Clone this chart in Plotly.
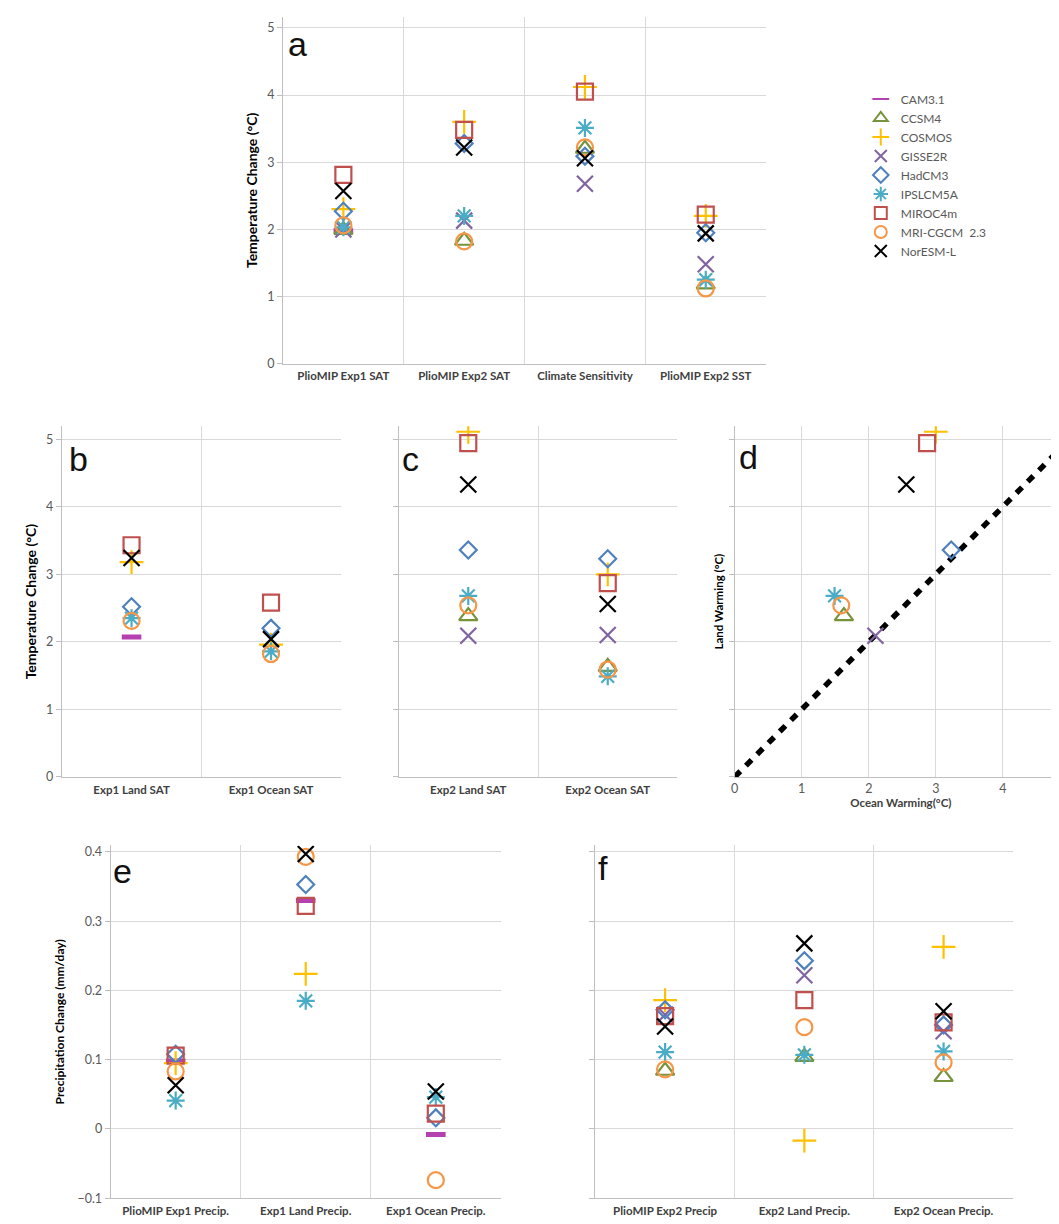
import plotly.graph_objects as go

W, H = 1059, 1224

MODELS = ["CAM3.1", "CCSM4", "COSMOS", "GISSE2R", "HadCM3", "IPSLCM5A",
          "MIROC4m", "MRI-CGCM  2.3", "NorESM-L"]
COLORS = ["#B540B0", "#77933C", "#FFC000", "#8064A2", "#4F81BD", "#4BACC6",
          "#C0504D", "#F79646", "#000000"]
SYMBOLS = ["line-ew-open", "triangle-up-open", "cross-thin-open", "x-thin-open",
           "diamond-open", "asterisk-open", "square-open", "circle-open", "x-thin-open"]
SIZES = [14, 16, 17, 16, 13, 15, 16, 16, 16]

# Panel a
A_CATS = ["PlioMIP Exp1 SAT", "PlioMIP Exp2 SAT", "Climate Sensitivity", "PlioMIP Exp2 SST"]
A_EXP1_SAT = [1.98, 1.99, 2.30, 2.00, 2.27, 2.03, 2.81, 2.06, 2.57]
A_EXP2_SAT = [None, 1.83, 3.60, 2.13, 3.28, 2.20, 3.48, 1.82, 3.22]
A_CLIM_SENS = [None, 3.20, 4.12, 2.68, 3.09, 3.51, 4.05, 3.22, 3.06]
A_EXP2_SST = [None, 1.18, 2.20, 1.48, 1.95, 1.25, 2.22, 1.12, 1.94]

# Panel b
B_CATS = ["Exp1 Land SAT", "Exp1 Ocean SAT"]
B_LAND = [2.07, None, 3.18, None, 2.52, 2.35, 3.43, 2.31, 3.24]
B_OCEAN = [None, None, 1.96, None, 2.20, 1.86, 2.58, 1.82, 2.04]

# Panel c (and d)
C_CATS = ["Exp2 Land SAT", "Exp2 Ocean SAT"]
C_LAND = [None, 2.38, 5.11, 2.09, 3.36, 2.68, 4.94, 2.54, 4.33]
C_OCEAN = [None, 1.63, 3.00, 2.10, 3.23, 1.49, 2.87, 1.59, 2.56]
ONE_TO_ONE = [0, 5]

# Panel e
E_CATS = ["PlioMIP Exp1 Precip.", "Exp1 Land Precip.", "Exp1 Ocean Precip."]
E_ALL = [0.098, None, 0.095, None, 0.108, 0.041, 0.106, 0.083, 0.063]
E_LAND = [0.330, None, 0.224, None, 0.353, 0.185, 0.322, 0.393, 0.397]
E_OCEAN = [-0.008, None, None, None, 0.016, 0.046, 0.022, -0.074, 0.054]

# Panel f
F_CATS = ["PlioMIP Exp2 Precip", "Exp2 Land Precip.", "Exp2 Ocean Precip."]
F_ALL = [None, 0.084, 0.186, 0.165, 0.172, 0.111, 0.163, 0.086, 0.148]
F_LAND = [None, 0.104, -0.017, 0.222, 0.243, 0.107, 0.186, 0.147, 0.268]
F_OCEAN = [None, 0.075, 0.263, 0.141, 0.150, 0.112, 0.154, 0.096, 0.170]

FONT = "Lato, Open Sans, Liberation Sans, sans-serif"
GRID = "#d9d9d9"
AXLINE = "#bfbfbf"
TICKC = "#595959"
CATC = "#404040"

fig = go.Figure()


def px_x(a, b):
    return [a / W, min(b / W, 1.0)]


def px_y(top, bottom):
    return [1 - bottom / H, 1 - top / H]


def marker_for(m):
    is_dash = SYMBOLS[m] == "line-ew-open"
    return dict(symbol=SYMBOLS[m], size=SIZES[m], color=COLORS[m],
                line=dict(color=COLORS[m], width=5 if is_dash else 2.2))


def add_cat_panel(xa, ya, cats, columns, legend=False):
    for m in range(len(MODELS)):
        xs, ys = [], []
        for ci, col in enumerate(columns):
            if col[m] is not None:
                xs.append(ci + 0.5)
                ys.append(col[m])
        fig.add_trace(go.Scatter(
            x=xs, y=ys, mode="markers", name=MODELS[m],
            xaxis=xa, yaxis=ya, showlegend=legend, legendgroup=MODELS[m],
            marker=marker_for(m)))


def cat_xaxis(domain, cats, standoff=2):
    n = len(cats)
    return dict(domain=domain, range=[0, n], tickmode="array",
                tickvals=[i + 0.5 for i in range(n)], ticktext=cats,
                showgrid=False, showline=True, linecolor=AXLINE, linewidth=1,
                ticks="", zeroline=False, ticklabelstandoff=standoff,
                tickfont=dict(family=FONT, size=11.5, color=CATC, weight="bold"),
                minor=dict(tickmode="array", tickvals=list(range(1, n + 1)),
                           showgrid=True, gridcolor=GRID, gridwidth=1, ticks=""),
                fixedrange=True)


def num_yaxis(domain, rng, dtick, labels=True, title=None, anchor=None, tsize=14, standoff=6):
    d = dict(domain=domain, range=rng, dtick=dtick, tick0=0,
             showgrid=True, gridcolor=GRID, gridwidth=1,
             showline=True, linecolor=AXLINE, linewidth=1,
             ticks="outside", ticklen=5, tickcolor=AXLINE,
             showticklabels=labels, zeroline=False,
             tickfont=dict(family=FONT, size=12.5, color=TICKC),
             anchor=anchor, fixedrange=True)
    if title:
        d["title"] = dict(text=title, standoff=standoff,
                          font=dict(family=FONT, size=tsize, color="#000000", weight="bold"))
    return d


# ---- Panel a
add_cat_panel("x", "y", A_CATS, [A_EXP1_SAT, A_EXP2_SAT, A_CLIM_SENS, A_EXP2_SST], legend=True)
# ---- Panel b
add_cat_panel("x2", "y2", B_CATS, [B_LAND, B_OCEAN])
# ---- Panel c
add_cat_panel("x3", "y3", C_CATS, [C_LAND, C_OCEAN])
# ---- Panel d
fig.add_trace(go.Scatter(x=ONE_TO_ONE, y=ONE_TO_ONE, mode="lines", xaxis="x4", yaxis="y4",
                         showlegend=False, line=dict(color="black", width=5.5, dash="8px,8px")))
for m in range(len(MODELS)):
    if C_LAND[m] is None or C_OCEAN[m] is None:
        continue
    fig.add_trace(go.Scatter(
        x=[C_OCEAN[m]], y=[C_LAND[m]], mode="markers", name=MODELS[m],
        xaxis="x4", yaxis="y4", showlegend=False, marker=marker_for(m)))
# ---- Panel e
add_cat_panel("x5", "y5", E_CATS, [E_ALL, E_LAND, E_OCEAN])
# ---- Panel f
add_cat_panel("x6", "y6", F_CATS, [F_ALL, F_LAND, F_OCEAN])

TOP_A, BOT_A = 8, 357
TOP_BCD, BOT_BCD = 420, 773
TOP_EF, BOT_EF = 842, 1197

yr_a = [0, (BOT_A - TOP_A) / 67.6]
yr_b = [0, (BOT_BCD - TOP_BCD) / 68.0]
yr_e = [-0.1, -0.1 + (BOT_EF - TOP_EF) / 697.0]

d_left = 725.4
d_xmax = (W - d_left) / 67.3

fig.update_layout(
    width=W, height=H, margin=dict(l=0, r=0, t=0, b=0),
    paper_bgcolor="white", plot_bgcolor="white",
    font=dict(family=FONT),
    xaxis=cat_xaxis(px_x(272, 757), A_CATS),
    yaxis=num_yaxis(px_y(TOP_A, BOT_A), yr_a, 1, True, "Temperature Change (°C)", "x"),
    xaxis2=cat_xaxis(px_x(50, 330), B_CATS),
    yaxis2=num_yaxis(px_y(TOP_BCD, BOT_BCD), yr_b, 1, True, "Temperature Change (°C)", "x2"),
    xaxis3=cat_xaxis(px_x(388, 668), C_CATS),
    yaxis3=num_yaxis(px_y(TOP_BCD, BOT_BCD), yr_b, 1, False, None, "x3"),
    xaxis4=dict(domain=px_x(d_left, W), range=[0, d_xmax], dtick=1, tick0=0,
                showgrid=True, gridcolor=GRID, showline=True, linecolor=AXLINE,
                ticks="", zeroline=False, anchor="y4",
                tickfont=dict(family=FONT, size=12.5, color=TICKC),
                title=dict(text="Ocean Warming(°C)", standoff=2,
                           font=dict(family=FONT, size=11.5, color=CATC, weight="bold")),
                fixedrange=True),
    yaxis4=num_yaxis(px_y(TOP_BCD, BOT_BCD), yr_b, 1, False, "Land Warming (°C)", "x4",
                     tsize=11.5, standoff=2),
    xaxis5=cat_xaxis(px_x(99, 490.7), E_CATS),
    yaxis5=num_yaxis(px_y(TOP_EF, BOT_EF), yr_e, 0.1, True, "Precipitation Change (mm/day)", "x5",
                     tsize=12, standoff=10),
    xaxis6=cat_xaxis(px_x(585.7, 1005), F_CATS),
    yaxis6=num_yaxis(px_y(TOP_EF, BOT_EF), yr_e, 0.1, False, None, "x6"),
    legend=dict(x=852 / W, y=1 - 76 / H, xanchor="left", yanchor="top",
                font=dict(family=FONT, size=12, color=TICKC),
                itemsizing="constant", tracegroupgap=0, bgcolor="rgba(0,0,0,0)"),
    showlegend=True,
)
for ax in ["xaxis", "xaxis2", "xaxis3", "xaxis5", "xaxis6"]:
    fig.layout[ax].anchor = "y" + ax[5:]

letters = [("a", 287, 35), ("b", 67, 453), ("c", 400, 453), ("d", 739, 451),
           ("e", 111, 868), ("f", 593, 865)]
for t, lx, ly in letters:
    fig.add_annotation(text=t, x=lx / W, y=1 - ly / H, xref="paper", yref="paper",
                       showarrow=False, xanchor="center", yanchor="middle",
                       font=dict(family="Liberation Sans, Arial, sans-serif", size=34, color="#111111"))

fig.write_html("out.html")
